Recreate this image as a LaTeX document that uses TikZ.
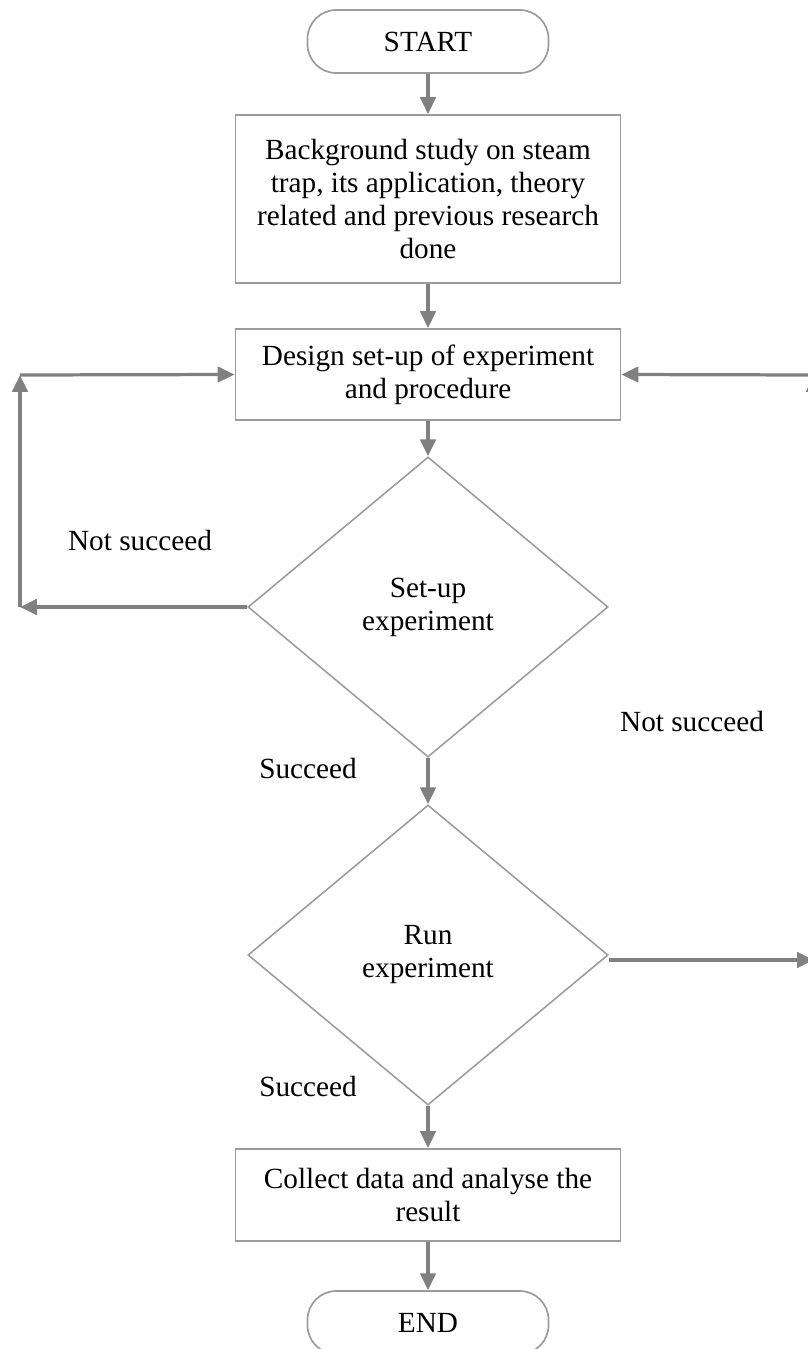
\documentclass[tikz,border=0pt]{standalone}
\usepackage{fontspec}
\setmainfont{Liberation Serif}
\usetikzlibrary{arrows.meta,shapes.geometric}
\newcommand{\flowfont}{\fontsize{20.8pt}{23.5pt}\selectfont}
\definecolor{linegray}{RGB}{128,128,128}
\definecolor{boxgray}{RGB}{155,155,155}

\begin{document}
\begin{tikzpicture}[x=0.025cm, y=-0.025cm, font=\flowfont,
    terminal/.style={draw=boxgray, line width=1.2pt, rounded corners=0.72cm,
      minimum width=6.025cm, minimum height=1.575cm, inner sep=0pt},
    stepbox/.style={draw=boxgray, line width=1.3pt, align=center,
      minimum width=9.625cm, inner sep=0pt},
    decision/.style={draw=boxgray, line width=1.1pt, diamond, align=center,
      minimum width=9cm, minimum height=7.5cm, inner sep=0pt},
    flow/.style={draw=linegray, line width=2.3pt,
      -{Triangle[length=12pt,width=11pt]}}]
         \useasboundingbox (0, 0) rectangle (808, 1349);
         \clip (0, 0) rectangle (808, 1349);
         \node [terminal] (ST) at (428, 41.5) {START};
         \node [stepbox, minimum height=4.2cm] (BG) at (428, 199)
               {Background study on steam\\ trap, its application, theory\\
                related and previous research\\ done};
         \node [stepbox, minimum height=2.275cm] (DS) at (428, 374.5)
               {Design set-up of experiment\\ and procedure};
         \node [decision] (D1) at (428, 607) {Set-up\\ experiment};
         \node [decision] (D2) at (428, 955) {Run\\ experiment};
         \node [stepbox, minimum height=2.3cm] (CD) at (428, 1195)
               {Collect data and analyse the\\ result};
         \node [terminal] (EN) at (428, 1322.5) {END};
         \coordinate (LB) at (20, 607);
         \coordinate (LT) at (20, 375);
         \coordinate (RB) at (814, 960);
         \coordinate (RT) at (814, 375);
         \node at (140, 540) {Not succeed};
         \node at (692, 721) {Not succeed};
         \node at (308, 768) {Succeed};
         \node at (308, 1086) {Succeed};
         \draw [flow] (ST) -- (BG);
         \draw [flow] (BG) -- (DS);
         \draw [flow] (DS) -- (D1);
         \draw [flow] (D1) -- (D2);
         \draw [flow] (D2) -- (CD);
         \draw [flow] (CD) -- (EN);
         \draw [flow] (D1.west) -- (LB);
         \draw [flow] (LB) -- (LT);
         \draw [flow] (LT) -- (DS.west);
         \draw [flow] (D2.east |- RB) -- (RB);
         \draw [flow] (RB) -- (RT);
         \draw [flow] (RT) -- (DS.east);
\end{tikzpicture}
\end{document}
